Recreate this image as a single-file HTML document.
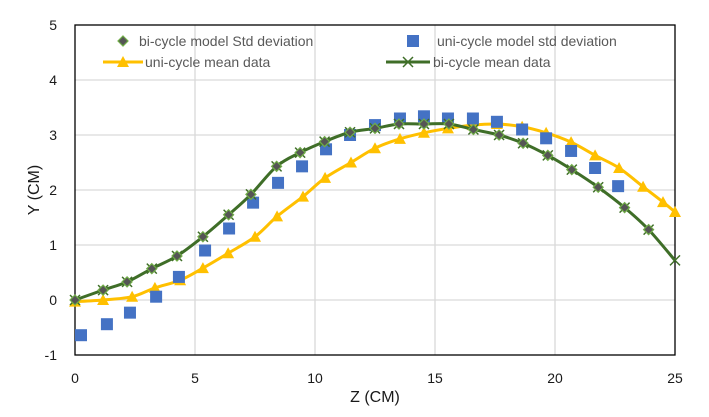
<!DOCTYPE html>
<html><head><meta charset="utf-8"><style>
body{margin:0;background:#fff}
svg{font-family:"Liberation Sans",sans-serif}
</style></head><body>
<svg id="c" width="709" height="412"></svg>
<script>
const biZ=[0,1.17,2.17,3.2,4.25,5.33,6.4,7.33,8.4,9.38,10.4,11.46,12.5,13.5,14.54,15.58,16.6,17.67,18.67,19.7,20.7,21.8,22.9,23.9,25];
const biY=[0,0.18,0.33,0.57,0.8,1.15,1.55,1.92,2.43,2.68,2.88,3.05,3.12,3.2,3.2,3.2,3.1,3.0,2.85,2.63,2.37,2.05,1.68,1.28,0.72];
const uniZ=[0,1.17,2.38,3.33,4.38,5.33,6.38,7.5,8.42,9.5,10.42,11.5,12.5,13.54,14.54,15.54,16.58,17.58,18.63,19.63,20.67,21.67,22.67,23.67,24.5,25];
const uniY=[-0.03,0,0.06,0.22,0.36,0.58,0.85,1.15,1.52,1.88,2.22,2.5,2.76,2.93,3.04,3.12,3.18,3.2,3.15,3.04,2.87,2.63,2.4,2.06,1.78,1.6];
const sdZ=[0.25,1.33,2.29,3.38,4.33,5.42,6.42,7.42,8.46,9.46,10.46,11.46,12.5,13.54,14.54,15.54,16.58,17.58,18.63,19.63,20.67,21.67,22.63];
const sdY=[-0.64,-0.44,-0.23,0.06,0.42,0.9,1.3,1.77,2.13,2.43,2.74,3.0,3.18,3.3,3.34,3.3,3.3,3.24,3.1,2.94,2.71,2.4,2.07];
const xTicks=[0,5,10,15,20,25];
const yTicks=[-1,0,1,2,3,4,5];
const NS="http://www.w3.org/2000/svg",svg=document.getElementById('c');
const X=z=>75+z*24, Y=v=>300-v*55;
function mk(t,a,p){const e=document.createElementNS(NS,t);for(const k in a)e.setAttribute(k,a[k]);(p||svg).appendChild(e);return e;}
for(const t of yTicks){
 if(t>-1&&t<5){const g=mk('line',{x1:75,x2:675,y1:Y(t),y2:Y(t),stroke:'#d9d9d9','stroke-width':1.3});
 
 }
 const l=mk('text',{x:57,y:Y(t)+5,'text-anchor':'end','font-size':14,fill:'#1a1a1a'});l.textContent=t;
 
 
}
for(const t of xTicks){
 if(t>0&&t<25){const g=mk('line',{x1:X(t),x2:X(t),y1:Y(5),y2:Y(-1),stroke:'#d9d9d9','stroke-width':1.3});
 
 }
 const l=mk('text',{x:X(t),y:383,'text-anchor':'middle','font-size':14,fill:'#1a1a1a'});l.textContent=t;
 
 
}
const ax=mk('rect',{x:75,y:Y(5),width:600,height:330,fill:'none',stroke:'#000','stroke-width':1.3});


function smooth(xs,ys){let p=xs.map((z,i)=>[X(z),Y(ys[i])]);let d=`M${p[0][0]} ${p[0][1]}`;
 for(let i=0;i<p.length-1;i++){const p0=p[i-1]||p[i],p1=p[i],p2=p[i+1],p3=p[i+2]||p2;
 d+=`C${p1[0]+(p2[0]-p0[0])/6} ${p1[1]+(p2[1]-p0[1])/6} ${p2[0]-(p3[0]-p1[0])/6} ${p2[1]-(p3[1]-p1[1])/6} ${p2[0]} ${p2[1]}`;}return d;}
function tri(x,y,c,p){return mk('path',{d:`M${x} ${y-6}L${x+6} ${y+5}L${x-6} ${y+5}Z`,fill:c},p);}
function cross(x,y,p){return mk('path',{d:`M${x-5} ${y-5}L${x+5} ${y+5}M${x+5} ${y-5}L${x-5} ${y+5}`,stroke:'#3f6e28','stroke-width':1.5},p);}
function dia(x,y,p){return mk('path',{d:`M${x} ${y-5}L${x+5} ${y}L${x} ${y+5}L${x-5} ${y}Z`,fill:'#555','stroke':'#70ad47','stroke-width':1.2},p);}
const gU=mk('g',{});
mk('path',{d:smooth(uniZ,uniY),fill:'none',stroke:'#ffc000','stroke-width':3},gU);
uniZ.forEach((z,i)=>{const m=tri(X(z),Y(uniY[i]),'#ffc000',gU);
 
 });
const gS=mk('g',{});
sdZ.forEach((z,i)=>{const m=mk('rect',{x:X(z)-6,y:Y(sdY[i])-6,width:12,height:12,fill:'#4472c4'},gS);
 
 });
const gB=mk('g',{});
mk('path',{d:smooth(biZ,biY),fill:'none',stroke:'#3f6e28','stroke-width':3},gB);
biZ.forEach((z,i)=>{const m=cross(X(z),Y(biY[i]),gB);
 
 
 if(i<biZ.length-1){const d=dia(X(z),Y(biY[i]),gB);
 
 }});
const lg=mk('g',{});
dia(123,41,lg);
mk('rect',{x:407,y:35,width:12,height:12,fill:'#4472c4'},lg);
mk('line',{x1:103,x2:143,y1:62,y2:62,stroke:'#ffc000','stroke-width':3},lg);tri(123,62,'#ffc000',lg);
mk('line',{x1:386,x2:430,y1:62,y2:62,stroke:'#3f6e28','stroke-width':3},lg);cross(408,62,lg);
[[139,46,'bi-cycle model Std deviation'],[437,46,'uni-cycle model std deviation'],[145,67,'uni-cycle mean data'],[433,67,'bi-cycle mean data']].forEach(a=>{
 const t=mk('text',{x:a[0],y:a[1],'font-size':14,fill:'#595959'},lg);t.textContent=a[2];
 
 });
const xt=mk('text',{x:375,y:402,'text-anchor':'middle','font-size':16,fill:'#1a1a1a'});xt.textContent='Z (CM)';


const yt=mk('text',{x:0,y:0,'text-anchor':'middle','font-size':16,fill:'#1a1a1a',transform:'translate(39,190) rotate(-90)'});yt.textContent='Y (CM)';


</script>
</body></html>
